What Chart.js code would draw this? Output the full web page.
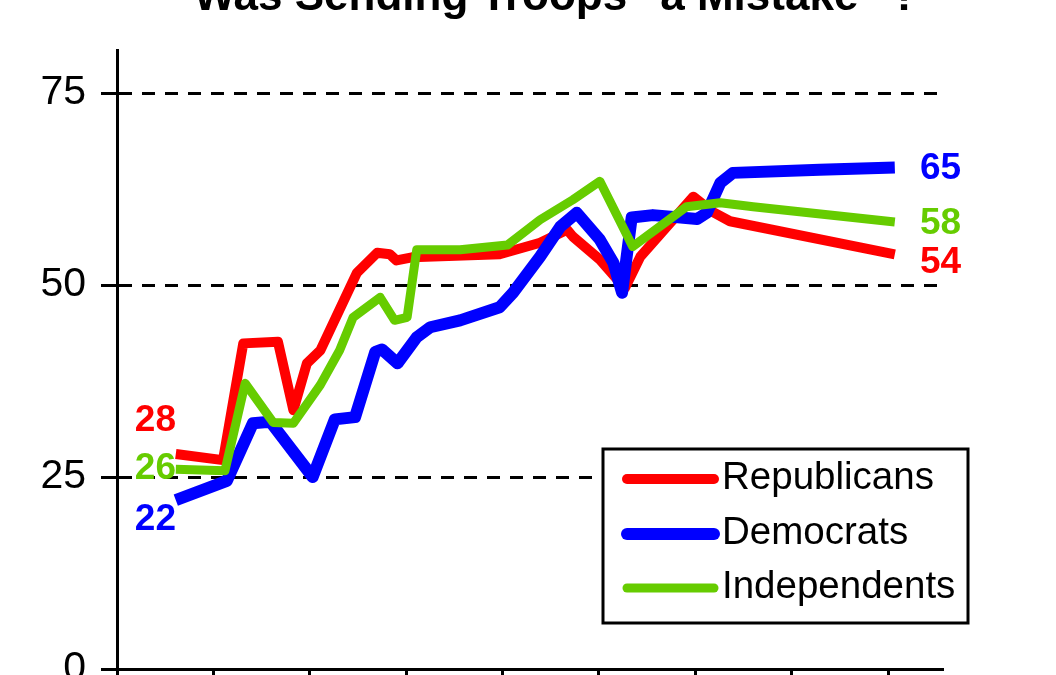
<!DOCTYPE html>
<html><head><meta charset="utf-8">
<script src="https://cdn.jsdelivr.net/npm/chart.js@4.4.1/dist/chart.umd.min.js"></script>
<style>
html,body{margin:0;padding:0;background:#fff;overflow:hidden;width:1056px;height:675px;}
#wrap{position:absolute;left:0;top:-40px;width:1056px;height:760px;}
canvas{display:block;}
</style></head><body>
<div id="wrap"><canvas id="c" width="1056" height="760"></canvas></div>
<script>
// ---------- data ----------
const TITLE = 'Was Sending Troops "a Mistake" ?';
const SERIES_NAMES = ['Republicans', 'Democrats', 'Independents'];
const Y_TICKS = [0, 25, 50, 75];
const X_TICK_YEARS = [1965, 1966, 1967, 1968, 1969, 1970, 1971, 1972, 1973];

const repDates  = [1965.61, 1966.10, 1966.31, 1966.67, 1966.83, 1966.97, 1967.11, 1967.49, 1967.70, 1967.83, 1967.90, 1968.06, 1968.97, 1969.39, 1969.67, 1969.73, 1970.01, 1970.27, 1970.43, 1970.98, 1971.17, 1971.36, 1973.07];
const repValues = [28,      27.2,    42.4,    42.6,    33.7,    39.8,    41.5,    51.6,    54.2,    54.0,    53.2,    53.6,    54.0,    55.5,    57.2,    56.3,    53.3,    49.6,    53.7,    61.5,    59.6,    58.3,    54];

const demDates  = [1965.61, 1966.14, 1966.41, 1966.59, 1967.03, 1967.26, 1967.47, 1967.68, 1967.75, 1967.91, 1968.11, 1968.25, 1968.56, 1968.97, 1969.11, 1969.39, 1969.60, 1969.77, 1970.01, 1970.15, 1970.24, 1970.34, 1970.56, 1971.02, 1971.12, 1971.26, 1971.39, 1972.29, 1973.07];
const demValues = [22,      24.5,    32.0,    32.2,    25.0,    32.5,    32.8,    41.3,    41.6,    39.8,    43.2,    44.5,    45.4,    47.1,    49.0,    53.7,    57.6,    59.4,    55.9,    52.9,    49.0,    58.8,    59.1,    58.6,    59.4,    63.3,    64.6,    65.0,    65.3];

const indDates  = [1965.61, 1966.12, 1966.33, 1966.62, 1966.83, 1967.11, 1967.31, 1967.45, 1967.73, 1967.88, 1968.01, 1968.11, 1968.56, 1969.05, 1969.39, 1969.73, 1970.01, 1970.35, 1970.91, 1971.26, 1971.60, 1973.07];
const indValues = [26,      25.8,    37.2,    32.1,    32.0,    37.0,    41.5,    45.8,    48.4,    45.4,    45.8,    54.6,    54.6,    55.2,    58.5,    61.1,    63.5,    55.0,    60.2,    60.7,    60.2,    58.2];

// ---------- styles ----------
const FONT = '"Liberation Sans", Arial, Helvetica, sans-serif';
const COLORS = ['#FF0000', '#0000FF', '#66CC00'];
const WIDTHS = [10, 12, 9];
const START_LABEL_DY = [-33, 20, -1];   // px offsets of the first-value labels
const END_LABEL_DY = [9, 1, 2];         // px offsets of the last-value labels

const toXY = (xs, ys) => xs.map((x, i) => ({x: x, y: ys[i]}));
const seriesData = [toXY(repDates, repValues), toXY(demDates, demValues), toXY(indDates, indValues)];

const overlay = {
  id: 'overlay',
  afterLayout(chart) {
    const t = chart.titleBlock;
    if (t) { const shift = 556 - (t.left + t.right) / 2; t.left += shift; t.right += shift; }
  },
  afterDatasetsDraw(chart) {
    const ctx = chart.ctx, ys = chart.scales.y, area = chart.chartArea;
    ctx.save();
    // first / last value labels
    ctx.font = 'bold 37px ' + FONT;
    ctx.textBaseline = 'middle';
    chart.data.datasets.forEach((ds, i) => {
      const d = ds.data;
      const first = d[0].y, last = d[d.length - 1].y;
      ctx.fillStyle = ds.borderColor;
      ctx.textAlign = 'right';
      ctx.fillText(String(Math.round(first)), area.left + 59, ys.getPixelForValue(first) + START_LABEL_DY[i]);
      ctx.textAlign = 'left';
      ctx.fillText(String(Math.round(last)), area.right - 23, ys.getPixelForValue(last) + END_LABEL_DY[i]);
    });
    // legend box
    const bx = area.right - 340, by = area.bottom - 220, bw = 365, bh = 174;
    ctx.fillStyle = '#fff';
    ctx.fillRect(bx, by, bw, bh);
    ctx.lineWidth = 3;
    ctx.strokeStyle = '#000';
    ctx.strokeRect(bx, by, bw, bh);
    const rows = [29, 84, 138];
    ctx.font = '38.5px ' + FONT;
    ctx.textAlign = 'left';
    chart.data.datasets.forEach((ds, i) => {
      const yy = by + rows[i];
      ctx.beginPath();
      ctx.lineCap = 'round';
      ctx.lineWidth = ds.borderWidth;
      ctx.strokeStyle = ds.borderColor;
      ctx.moveTo(bx + 24, yy + 1);
      ctx.lineTo(bx + 111, yy + 1);
      ctx.stroke();
      ctx.fillStyle = '#000';
      ctx.fillText(ds.label, bx + 119, yy);
    });
    ctx.restore();
  }
};

const datasets = SERIES_NAMES.map((name, i) => ({
  label: name,
  data: seriesData[i],
  borderColor: COLORS[i],
  backgroundColor: COLORS[i],
  borderWidth: WIDTHS[i],
  pointRadius: 0,
  pointHoverRadius: 0,
  tension: 0,
  fill: false,
  borderJoinStyle: 'round',
  borderCapStyle: 'butt',
  order: 2 - i
}));

new Chart(document.getElementById('c'), {
  type: 'line',
  data: {datasets: datasets},
  plugins: [overlay],
  options: {
    responsive: false,
    animation: false,
    devicePixelRatio: 1,
    layout: {padding: {left: 0, right: 113, top: 0, bottom: 0}},
    plugins: {
      legend: {display: false},
      tooltip: {enabled: false},
      title: {
        display: true,
        text: TITLE,
        color: '#000',
        font: {family: FONT, size: 44, weight: 'bold', lineHeight: 1.2},
        padding: {top: 11.6, bottom: 25.6}
      }
    },
    scales: {
      x: {
        type: 'linear',
        min: 1965,
        max: 1973.57,
        afterBuildTicks: (s) => { s.ticks = X_TICK_YEARS.map(v => ({value: v})); },
        afterFit: (s) => { s.height = 51; },
        ticks: {display: false, stepSize: 1},
        grid: {drawOnChartArea: false, drawTicks: true, tickLength: 10, tickWidth: 3, tickColor: '#000', color: '#000'},
        border: {display: true, color: '#000', width: 3}
      },
      y: {
        type: 'linear',
        min: 0,
        max: 80.6,
        afterBuildTicks: (s) => { s.ticks = Y_TICKS.map(v => ({value: v})); },
        afterFit: (s) => { s.width = 117; },
        ticks: {color: '#000', padding: 15, font: {family: FONT, size: 41}},
        grid: {
          color: (c) => (c.tick && c.tick.value === 0) ? 'rgba(0,0,0,0)' : '#000',
          lineWidth: 3,
          drawTicks: true,
          tickLength: 16,
          tickWidth: 3,
          tickColor: '#000'
        },
        border: {display: true, color: '#000', width: 3, dash: [13, 10]}
      }
    }
  }
});
</script>
</body></html>
